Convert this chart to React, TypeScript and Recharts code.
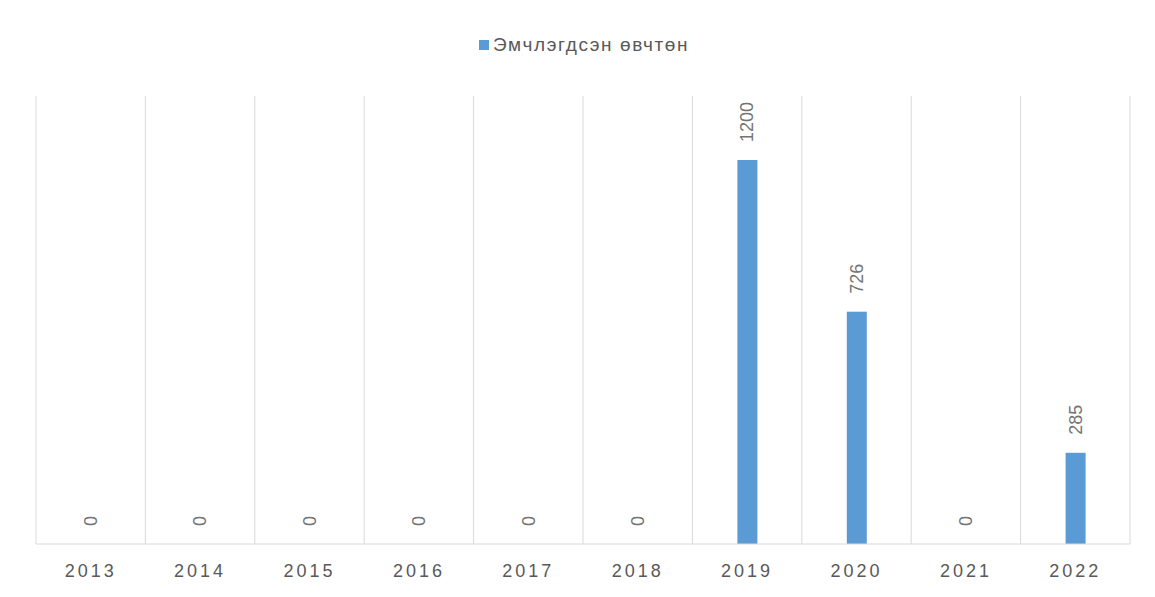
import React from "react";
import {
  BarChart,
  Bar,
  XAxis,
  YAxis,
  CartesianGrid,
  Legend,
} from "recharts";

const years = ["2013", "2014", "2015", "2016", "2017", "2018", "2019", "2020", "2021", "2022"];
const treated = [0, 0, 0, 0, 0, 0, 1200, 726, 0, 285];
const seriesName = "Эмчлэгдсэн өвчтөн";

const data = years.map((year, i) => ({ year, value: treated[i] }));

const FONT = "'Liberation Sans', Arial, sans-serif";
const TEXT = "#595959";
const BLUE = "#5b9bd5";

// bar + rotated value label (zero-height bars still get their "0")
const BarWithLabel = (props: any) => {
  const { x, y, width, height, value, fill } = props;
  const cx = x + width / 2;
  const cy = y - 18;
  const v = Array.isArray(value) ? value[1] - value[0] : value;
  return (
    <g>
      {height > 0 && <rect x={x} y={y} width={width} height={height} fill={fill} />}
      <text
        x={cx}
        y={cy}
        transform={`rotate(-90, ${cx}, ${cy})`}
        textAnchor="start"
        dominantBaseline="central"
        fill="#737373"
        fontSize={18}
        fontFamily={FONT}
      >
        {v}
      </text>
    </g>
  );
};

const renderLegend = () => (
  <div
    style={{
      display: "flex",
      justifyContent: "center",
      alignItems: "center",
      fontFamily: FONT,
      fontSize: 19,
      letterSpacing: 1.6,
      color: TEXT,
      paddingLeft: 6,
    }}
  >
    <span style={{ width: 10, height: 10, background: BLUE, marginRight: 4, display: "inline-block" }} />
    <span>{seriesName}</span>
  </div>
);

export default function App() {
  return (
    <div style={{ borderLeft: "1px solid #d9d9d9", width: 1146, height: 589, marginLeft: -1 }}>
      <BarChart
        width={1146}
        height={589}
        data={data}
        margin={{ top: 66, right: 24, left: 28, bottom: 0 }}
        barSize={20}
      >
        <CartesianGrid
          horizontal={false}
          stroke="#d9d9d9"
          verticalCoordinatesGenerator={({ offset }: any) => {
            const step = offset.width / years.length;
            return years.map((_, i) => offset.left + step * i).concat(offset.left + offset.width);
          }}
        />
        <XAxis
          dataKey="year"
          height={53}
          axisLine={{ stroke: "#d9d9d9" }}
          tickLine={false}
          tick={{ fill: TEXT, fontSize: 18, fontFamily: FONT, letterSpacing: 3 }}
          tickMargin={14}
        />
        <YAxis hide domain={[0, 1400]} />
        <Legend
          verticalAlign="top"
          content={renderLegend}
          wrapperStyle={{ top: 26, left: 0, width: 1146 }}
        />
        <Bar
          dataKey="value"
          name={seriesName}
          fill={BLUE}
          shape={BarWithLabel}
          isAnimationActive={false}
        />
      </BarChart>
    </div>
  );
}
